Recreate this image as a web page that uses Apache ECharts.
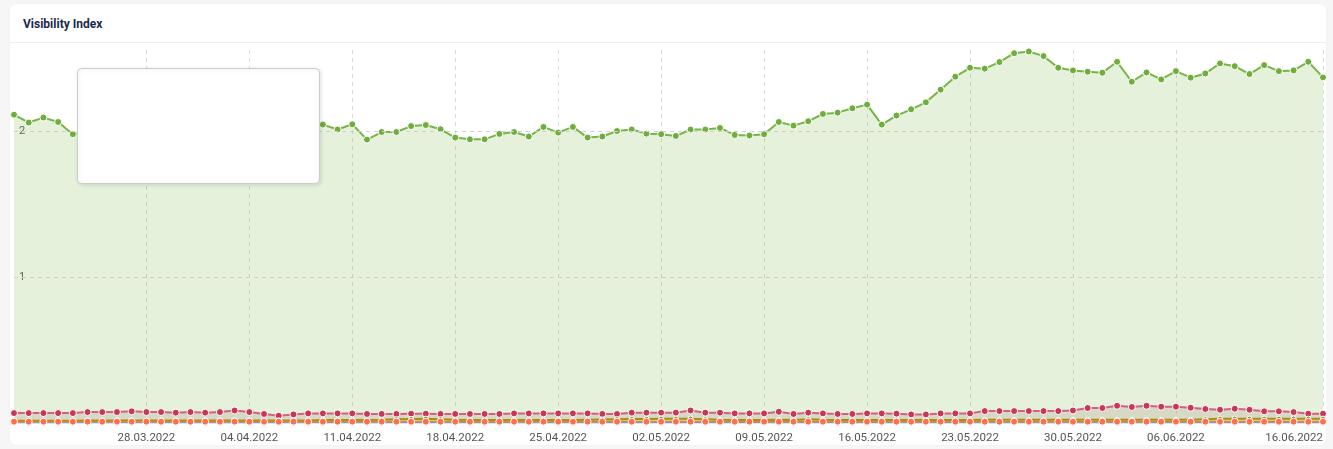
<!DOCTYPE html>
<html>
<head>
<meta charset="utf-8">
<script src="https://cdn.jsdelivr.net/npm/echarts@6/dist/echarts.min.js"></script>
<style>
  html, body { margin: 0; padding: 0; background: #f6f6f6; width: 1333px; height: 449px; overflow: hidden; }
  #card { position: absolute; left: 10px; top: 4px; width: 1316px; height: 441px; background: #fff; border-radius: 6px; box-shadow: 0 0 2px rgba(0,0,0,0.06); }
  #sep { position: absolute; left: 10px; top: 42px; width: 1316px; height: 1px; background: #eeeeee; }
  #title { position: absolute; left: 23px; top: 17px; font-family: Roboto, "Open Sans", sans-serif; font-weight: bold; font-size: 12px; color: #1d2a4d; line-height: 14px; }
  #chart { position: absolute; left: 0; top: 0; width: 1333px; height: 449px; }
</style>
</head>
<body>
<div id="card"></div>
<div id="sep"></div>
<div id="title">Visibility Index</div>
<div id="chart"></div>
<script>
const categories = [
  '19.03.2022','20.03.2022','21.03.2022','22.03.2022','23.03.2022','24.03.2022','25.03.2022','26.03.2022','27.03.2022','28.03.2022','29.03.2022','30.03.2022','31.03.2022',
  '01.04.2022','02.04.2022','03.04.2022','04.04.2022','05.04.2022','06.04.2022','07.04.2022','08.04.2022','09.04.2022','10.04.2022','11.04.2022','12.04.2022','13.04.2022','14.04.2022','15.04.2022','16.04.2022','17.04.2022','18.04.2022','19.04.2022','20.04.2022','21.04.2022','22.04.2022','23.04.2022','24.04.2022','25.04.2022','26.04.2022','27.04.2022','28.04.2022','29.04.2022','30.04.2022',
  '01.05.2022','02.05.2022','03.05.2022','04.05.2022','05.05.2022','06.05.2022','07.05.2022','08.05.2022','09.05.2022','10.05.2022','11.05.2022','12.05.2022','13.05.2022','14.05.2022','15.05.2022','16.05.2022','17.05.2022','18.05.2022','19.05.2022','20.05.2022','21.05.2022','22.05.2022','23.05.2022','24.05.2022','25.05.2022','26.05.2022','27.05.2022','28.05.2022','29.05.2022','30.05.2022','31.05.2022',
  '01.06.2022','02.06.2022','03.06.2022','04.06.2022','05.06.2022','06.06.2022','07.06.2022','08.06.2022','09.06.2022','10.06.2022','11.06.2022','12.06.2022','13.06.2022','14.06.2022','15.06.2022','16.06.2022'
];

// tick labels shown on the x axis
const tickLabels = ['28.03.2022','04.04.2022','11.04.2022','18.04.2022','25.04.2022','02.05.2022','09.05.2022','16.05.2022','23.05.2022','30.05.2022','06.06.2022','16.06.2022'];

const greenSeries = [
  2.116, 2.062, 2.096, 2.066, 1.982,
  2.00, 2.02, 2.05, 2.03, 2.01, 2.04, 2.06, 2.05, 2.02, 2.03, 2.07, 2.05, 2.04, 2.06, 2.05, 2.03,
  2.048, 2.014, 2.050, 1.945, 1.997, 1.997, 2.038, 2.045, 2.016,
  1.959, 1.947, 1.947, 1.984, 1.997, 1.966, 2.032, 1.993, 2.032, 1.959,
  1.966, 2.004, 2.014, 1.986, 1.982, 1.970, 2.014, 2.014, 2.025, 1.977,
  1.973, 1.982, 2.066, 2.041, 2.071, 2.121, 2.130, 2.160, 2.185, 2.048,
  2.110, 2.153, 2.201, 2.288, 2.377, 2.438, 2.432, 2.477, 2.538, 2.550,
  2.518, 2.438, 2.420, 2.411, 2.404, 2.479, 2.342, 2.406, 2.358, 2.415,
  2.370, 2.399, 2.468, 2.449, 2.395, 2.456, 2.415, 2.420, 2.479, 2.372
];

const redSeries = [
  0.068, 0.068, 0.068, 0.068, 0.068, 0.075, 0.075, 0.075, 0.080, 0.075,
  0.075, 0.071, 0.075, 0.071, 0.075, 0.086, 0.075, 0.062, 0.050, 0.059,
  0.066, 0.066, 0.066, 0.066, 0.062, 0.062, 0.062, 0.064, 0.064, 0.062,
  0.062, 0.062, 0.062, 0.062, 0.066, 0.066, 0.066, 0.066, 0.066, 0.066,
  0.062, 0.062, 0.071, 0.071, 0.071, 0.071, 0.086, 0.071, 0.071, 0.066,
  0.066, 0.066, 0.077, 0.062, 0.071, 0.066, 0.062, 0.062, 0.066, 0.066,
  0.064, 0.059, 0.059, 0.066, 0.066, 0.066, 0.082, 0.082, 0.082, 0.082,
  0.082, 0.082, 0.086, 0.103, 0.103, 0.118, 0.110, 0.118, 0.112, 0.112,
  0.105, 0.096, 0.091, 0.098, 0.091, 0.080, 0.080, 0.075, 0.064, 0.064
];

const oliveSeries = [
  0.016, 0.016, 0.016, 0.016, 0.016, 0.018, 0.018, 0.018, 0.018, 0.018,
  0.018, 0.018, 0.018, 0.018, 0.018, 0.018, 0.018, 0.018, 0.018, 0.018,
  0.018, 0.020, 0.020, 0.020, 0.020, 0.022, 0.026, 0.028, 0.030, 0.026,
  0.022, 0.020, 0.020, 0.020, 0.020, 0.020, 0.020, 0.020, 0.020, 0.022,
  0.024, 0.026, 0.028, 0.028, 0.030, 0.030, 0.030, 0.026, 0.022, 0.020,
  0.020, 0.020, 0.022, 0.020, 0.026, 0.022, 0.020, 0.020, 0.020, 0.020,
  0.020, 0.020, 0.020, 0.020, 0.020, 0.020, 0.022, 0.022, 0.022, 0.022,
  0.022, 0.022, 0.022, 0.022, 0.022, 0.022, 0.022, 0.022, 0.022, 0.022,
  0.022, 0.026, 0.030, 0.030, 0.030, 0.030, 0.030, 0.030, 0.030, 0.030
];

const orangeSeries = [
  0.008, 0.008, 0.008, 0.008, 0.008, 0.008, 0.008, 0.008, 0.008, 0.008,
  0.008, 0.008, 0.008, 0.008, 0.008, 0.008, 0.008, 0.008, 0.008, 0.008,
  0.008, 0.008, 0.008, 0.008, 0.008, 0.008, 0.009, 0.009, 0.009, 0.009,
  0.008, 0.008, 0.008, 0.008, 0.008, 0.008, 0.008, 0.008, 0.008, 0.008,
  0.008, 0.008, 0.008, 0.008, 0.008, 0.008, 0.008, 0.008, 0.008, 0.008,
  0.008, 0.008, 0.008, 0.008, 0.008, 0.008, 0.008, 0.008, 0.008, 0.008,
  0.008, 0.008, 0.008, 0.008, 0.008, 0.008, 0.008, 0.008, 0.008, 0.008,
  0.008, 0.008, 0.008, 0.008, 0.008, 0.008, 0.008, 0.008, 0.008, 0.008,
  0.008, 0.008, 0.008, 0.008, 0.008, 0.008, 0.008, 0.008, 0.008, 0.008
];

const coralSeries = [
  0.009, 0.009, 0.009, 0.009, 0.009, 0.009, 0.009, 0.009, 0.009, 0.009,
  0.009, 0.009, 0.009, 0.009, 0.009, 0.009, 0.009, 0.009, 0.009, 0.009,
  0.009, 0.009, 0.009, 0.009, 0.009, 0.009, 0.009, 0.009, 0.009, 0.009,
  0.009, 0.009, 0.009, 0.009, 0.009, 0.009, 0.009, 0.009, 0.009, 0.009,
  0.009, 0.009, 0.009, 0.009, 0.009, 0.009, 0.009, 0.009, 0.009, 0.009,
  0.009, 0.009, 0.009, 0.009, 0.009, 0.009, 0.009, 0.009, 0.009, 0.009,
  0.009, 0.009, 0.009, 0.009, 0.009, 0.009, 0.009, 0.009, 0.009, 0.009,
  0.009, 0.009, 0.009, 0.009, 0.009, 0.009, 0.009, 0.009, 0.009, 0.009,
  0.009, 0.009, 0.009, 0.009, 0.009, 0.009, 0.009, 0.009, 0.009, 0.009
];

const blueSeries = [
  0, 0, 0, 0, 0, 0, 0, 0, 0, 0, 0, 0, 0, 0, 0, 0, 0, 0, 0, 0, 0, 0, 0, 0, 0, 0, 0, 0, 0, 0,
  0, 0, 0, 0, 0, 0, 0, 0, 0, 0, 0, 0, 0, 0, 0, 0, 0, 0, 0, 0, 0, 0, 0, 0, 0, 0, 0, 0, 0, 0,
  0, 0, 0, 0, 0, 0, 0, 0, 0, 0, 0, 0, 0, 0, 0, 0, 0, 0, 0, 0, 0, 0, 0, 0, 0, 0, 0, 0, 0, 0
];

const yTicks = [1, 2];

const isTick = (idx) => tickLabels.indexOf(categories[idx]) !== -1;

const chart = echarts.init(document.getElementById('chart'), null, { renderer: 'canvas' });

function lineSeries(name, data, lineColor, pointColor, opts) {
  return Object.assign({
    name: name,
    type: 'line',
    data: data,
    symbol: 'circle',
    symbolSize: 7,
    showSymbol: true,
    lineStyle: { color: lineColor, width: 2 },
    itemStyle: { color: pointColor, borderColor: '#ffffff', borderWidth: 1 },
    emphasis: { disabled: true },
    animation: false
  }, opts || {});
}

chart.setOption({
  animation: false,
  grid: { left: 14, right: 10, top: 50, bottom: 26, containLabel: false },
  xAxis: {
    type: 'category',
    data: categories,
    boundaryGap: false,
    axisLine: { show: false },
    axisTick: { show: false },
    axisLabel: {
      interval: (idx) => isTick(idx),
      showMaxLabel: true,
      alignMaxLabel: 'right',
      color: '#555555',
      fontFamily: 'Roboto, sans-serif',
      fontSize: 11.5,
      margin: 9
    },
    splitLine: {
      show: true,
      interval: (idx) => isTick(idx),
      lineStyle: { color: '#dadada', type: [4, 4], width: 1 }
    }
  },
  yAxis: {
    type: 'value',
    min: 0,
    max: 2.56,
    interval: 1,
    axisLine: { show: false },
    axisTick: { show: false },
    axisLabel: {
      inside: true,
      margin: 5,
      color: '#555555',
      fontFamily: 'Roboto, sans-serif',
      fontSize: 11,
      formatter: (v) => (yTicks.indexOf(v) !== -1 ? String(v) : '')
    },
    splitLine: { show: false }
  },
  series: [
    lineSeries('Visibility', greenSeries, '#78b447', '#6fae3c', {
      areaStyle: { color: 'rgba(120,180,71,0.27)', origin: 'start' },
      z: 2,
      markLine: {
        silent: true,
        symbol: 'none',
        label: { show: false },
        animation: false,
        lineStyle: { color: '#d0d0d0', type: [4, 4], width: 1 },
        data: yTicks.map((v) => ({ yAxis: v }))
      }
    }),
    lineSeries('Red', redSeries, '#d3607c', '#c8375a', {
      areaStyle: { color: 'rgba(150,110,90,0.26)', origin: 'start' },
      z: 3
    }),
    lineSeries('Olive', oliveSeries, '#a88e12', '#8f7a12', { symbolSize: 5, z: 4 }),
    lineSeries('Orange', orangeSeries, '#e8802c', '#e8802c', { showSymbol: false, z: 5 }),
    lineSeries('Blue', blueSeries, '#4a8fd6', '#4a8fd6', { showSymbol: false, lineStyle: { color: '#5a96d8', width: 1.2 }, z: 5 }),
    lineSeries('Coral', coralSeries, 'rgba(255,112,80,0)', '#ff6f4c', { lineStyle: { width: 0, color: 'rgba(0,0,0,0)' }, z: 6 })
  ],
  graphic: [
    {
      type: 'rect',
      left: 77, top: 68, z: 100,
      shape: { width: 242, height: 115, r: 4 },
      style: {
        fill: '#ffffff', stroke: '#cccccc', lineWidth: 1,
        shadowBlur: 4, shadowColor: 'rgba(0,0,0,0.12)', shadowOffsetX: 1, shadowOffsetY: 1
      }
    }
  ]
});
</script>
</body>
</html>
